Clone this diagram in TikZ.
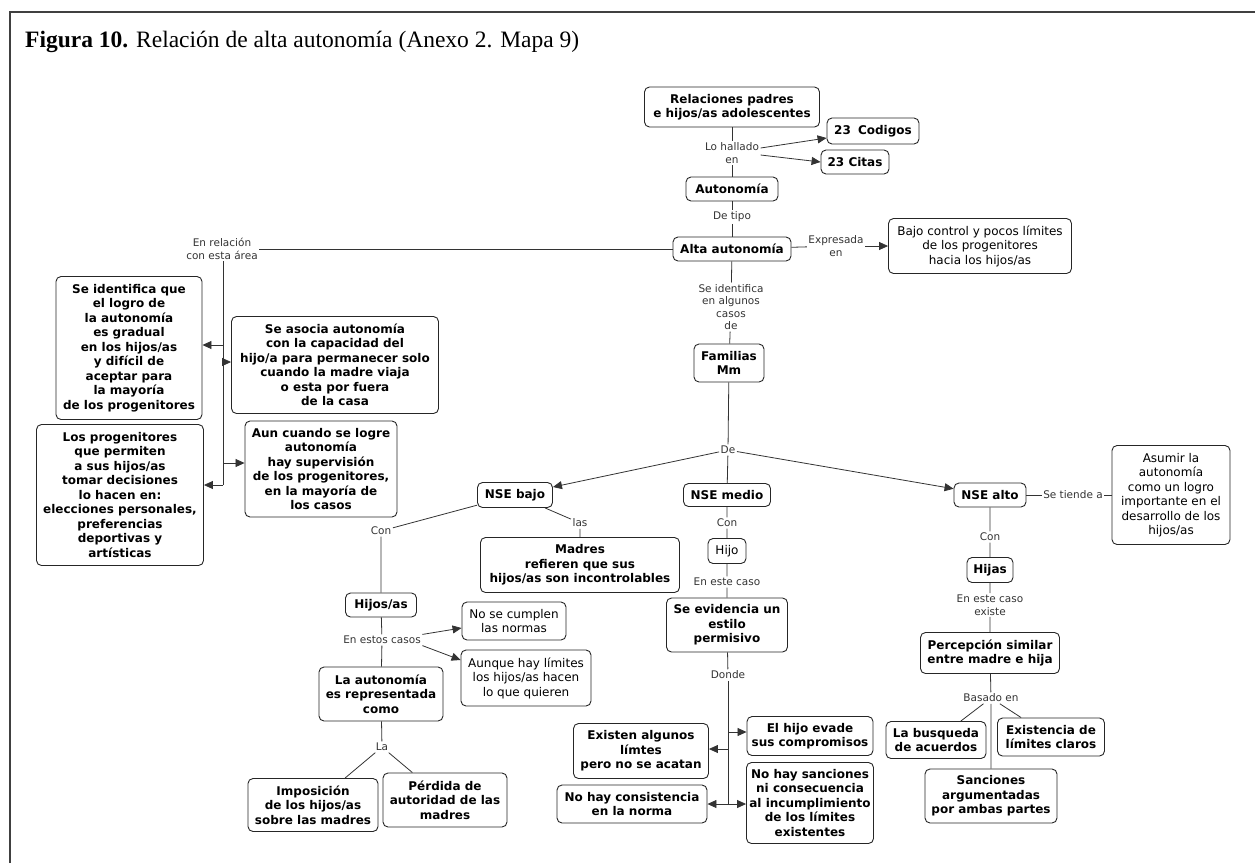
\documentclass[tikz,border=0pt]{standalone}
\usepackage{fontspec}
\setmainfont{DejaVu Sans}
\newfontfamily\titlefont{Liberation Serif}
\usetikzlibrary{arrows.meta}
\begin{document}
\begin{tikzpicture}[x=1pt,y=-1pt,
  box/.style={draw=black!85, line width=0.9pt, rounded corners=5pt, fill=white, align=center, font=\fontsize{12}{14.5}\selectfont\bfseries, inner sep=1.5pt},
  nbox/.style={box, font=\fontsize{12}{14.5}\selectfont},
  lbl/.style={align=center, font=\fontsize{10.5}{12.5}\selectfont, text=black!80, inner sep=1.5pt},
  con/.style={draw=black!80, line width=0.8pt},
  arr/.style={con, -{Triangle[length=9pt,width=8pt]}},
]
\useasboundingbox (0,0) rectangle (1255,863);
\draw[black!75, line width=1.3pt] (10,863) -- (10,12) -- (1255,12);
\node[anchor=base west, inner sep=0, font=\titlefont\fontsize{23.5}{27}\selectfont] (tit) at (25,47) {\textbf{Figura 10.} Relación de alta autonomía (Anexo 2. Mapa 9)};

% top column
\node[box, minimum width=175pt, minimum height=40pt] (rp) at (732,107) {Relaciones padres\\e hijos/as adolescentes};
\node[box, minimum width=92pt, minimum height=26pt] (cod) at (873,131) {23\hspace{0.6em}Codigos};
\node[box, minimum width=68pt, minimum height=24pt] (cit) at (855,162) {23 Citas};
\node[lbl] (lh) at (732,153) {Lo hallado\\en};
\node[box, minimum width=92pt, minimum height=24pt] (aut) at (732,189) {Autonomía};
\node[lbl] (dt) at (732,217) {De tipo};
\node[box, minimum width=118pt, minimum height=24pt] (alta) at (732,249) {Alta autonomía};
\node[lbl] (exp) at (836,246) {Expresada\\en};
\node[nbox, minimum width=183pt, minimum height=55pt] (bajo) at (980,246) {Bajo control y pocos límites\\de los progenitores\\hacia los hijos/as};
\node[lbl] (rel) at (222,249) {En relación\\con esta área};

% left group
\node[box, minimum width=146pt, minimum height=143pt] (sid) at (129,348) {Se identifica que\\el logro de\\la autonomía\\es gradual\\en los hijos/as\\y difícil de\\aceptar para\\la mayoría\\de los progenitores};
\node[box, minimum width=207pt, minimum height=97pt] (sas) at (335,365) {Se asocia autonomía\\con la capacidad del\\hijo/a para permanecer solo\\cuando la madre viaja\\o esta por fuera\\de la casa};
\node[box, minimum width=152pt, minimum height=96pt] (aun) at (321,469) {Aun cuando se logre\\autonomía\\hay supervisión\\de los progenitores,\\en la mayoría de\\los casos};
\node[box, minimum width=167pt, minimum height=141pt] (lpr) at (120,495) {Los progenitores\\que permiten\\a sus hijos/as\\tomar decisiones\\lo hacen en:\\elecciones personales,\\preferencias\\deportivas y\\artísticas};

% middle
\node[lbl] (sia) at (731,307) {Se identifica\\en algunos\\casos\\de};
\node[box, minimum width=70pt, minimum height=38pt] (fam) at (729,363) {Familias\\Mm};
\node[lbl] (de) at (728,450) {De};
\node[box, minimum width=75pt, minimum height=25pt] (nb) at (515,495) {NSE bajo};
\node[box, minimum width=87pt, minimum height=23pt] (nm) at (727,495) {NSE medio};
\node[box, minimum width=72pt, minimum height=24pt] (na) at (990,495) {NSE alto};
\node[lbl] (st) at (1073,495) {Se tiende a};
\node[nbox, minimum width=118pt, minimum height=99pt] (asu) at (1171,495) {Asumir la\\autonomía\\como un logro\\importante en el\\desarrollo de los\\hijos/as};

% alto branch
\node[lbl] (con3) at (990,537) {Con};
\node[box, minimum width=46pt, minimum height=25pt] (hij) at (990,570) {Hijas};
\node[lbl] (eec3) at (990,605) {En este caso\\existe};
\node[box, minimum width=139pt, minimum height=41pt] (per) at (990,653) {Percepción similar\\entre madre e hija};
\node[lbl] (bas) at (991,698) {Basado en};
\node[box, minimum width=100pt, minimum height=37pt] (bus) at (936,740) {La busqueda\\de acuerdos};
\node[box, minimum width=107pt, minimum height=38pt] (exi) at (1051,737) {Existencia de\\límites claros};
\node[box, minimum width=132pt, minimum height=54pt] (san) at (991,796) {Sanciones\\argumentadas\\por ambas partes};

% medio branch
\node[lbl] (con2) at (727,523) {Con};
\node[nbox, minimum width=38pt, minimum height=25pt] (hjo) at (727,551) {Hijo};
\node[lbl] (eec2) at (727,582) {En este caso};
\node[box, minimum width=121pt, minimum height=54pt] (sev) at (727,625) {Se evidencia un\\estilo\\permisivo};
\node[lbl] (don) at (728,675) {Donde};
\node[box, minimum width=135pt, minimum height=55pt] (exa) at (641,751) {Existen algunos\\límtes\\pero no se acatan};
\node[box, minimum width=150pt, minimum height=38pt] (nhc) at (632,804) {No hay consistencia\\en la norma};
\node[box, minimum width=126pt, minimum height=39pt] (ehe) at (810,736) {El hijo evade\\sus compromisos};
\node[box, minimum width=127pt, minimum height=81pt] (nhs) at (810,803) {No hay sanciones\\ni consecuencia\\al incumplimiento\\de los límites\\existentes};

% bajo branch
\node[lbl] (con1) at (381,531) {Con};
\node[lbl] (las) at (580,523) {las};
\node[box, minimum width=199pt, minimum height=55pt] (mad) at (580,565) {Madres\\refieren que sus\\hijos/as son incontrolables};
\node[box, minimum width=71pt, minimum height=24pt] (hb) at (381,605) {Hijos/as};
\node[lbl] (eec1) at (382,640) {En estos casos};
\node[nbox, minimum width=104pt, minimum height=38pt] (nsc) at (514,621) {No se cumplen\\las normas};
\node[nbox, minimum width=130pt, minimum height=56pt] (ahl) at (526,678) {Aunque hay límites\\los hijos/as hacen\\lo que quieren};
\node[box, minimum width=124pt, minimum height=54pt] (lar) at (381,694) {La autonomía\\es representada\\como};
\node[lbl] (la) at (382,747) {La};
\node[box, minimum width=130pt, minimum height=53pt] (imp) at (313,805) {Imposición\\de los hijos/as\\sobre las madres};
\node[box, minimum width=124pt, minimum height=54pt] (pdd) at (445,800) {Pérdida de\\autoridad de las\\madres};

% coordinates
\coordinate (ra) at (223,345);
\coordinate (rb) at (223,362);
\coordinate (rc) at (223,463);
\coordinate (rd) at (223,485);
\coordinate (d1) at (728,732);
\coordinate (d2) at (728,749);
\coordinate (d3) at (728,804);

% connectors
\draw[con] (rp) -- (lh) -- (aut);
\draw[arr] ([yshift=5pt]lh.east) -- ([yshift=-7pt]cod.west);
\draw[arr] ([yshift=-2pt]lh.east) -- (cit.west);
\draw[con] (aut) -- (dt) -- (alta);
\draw[con] (alta) -- (exp);
\draw[arr] (exp) -- (bajo);
\draw[con] (alta) -- (rel);
\draw[con] (rel.south -| rd) -- (rd);
\draw[arr] (ra) -- (ra -| sid.east);
\draw[arr] (rb) -- (rb -| sas.west);
\draw[arr] (rc) -- (rc -| aun.west);
\draw[arr] (rd) -- (rd -| lpr.east);

\draw[con] (alta) -- (sia) -- (fam);
\draw[con] (fam) -- (de) -- (nm);
\draw[arr] (de) -- (nb);
\draw[arr] (de) -- (na);
\draw[con] (na) -- (st) -- (asu);

\draw[con] (na) -- (con3) -- (hij) -- (eec3) -- (per) -- (bas) -- (san);
\draw[con] (bas) -- (bus);
\draw[con] (bas) -- (exi);

\draw[con] (nm) -- (con2) -- (hjo) -- (eec2) -- (sev) -- (don);
\draw[con] (don.south -| d3) -- (d3);
\draw[arr] (d1) -- (d1 -| ehe.west);
\draw[arr] (d2) -- (d2 -| exa.east);
\draw[arr] (d3) -- (d3 -| nhc.east);
\draw[arr] (d3) -- (d3 -| nhs.west);

\draw[con] (nb) -- (con1) -- (hb) -- (eec1) -- (lar) -- (la);
\draw[con] (la) -- (imp);
\draw[con] (la) -- (pdd);
\draw[con] (nb) -- (las) -- (mad);
\draw[arr] (eec1.north east) -- ([yshift=-7pt]nsc.west);
\draw[arr] (eec1.south east) -- ([yshift=18pt]ahl.west);
\end{tikzpicture}
\end{document}
